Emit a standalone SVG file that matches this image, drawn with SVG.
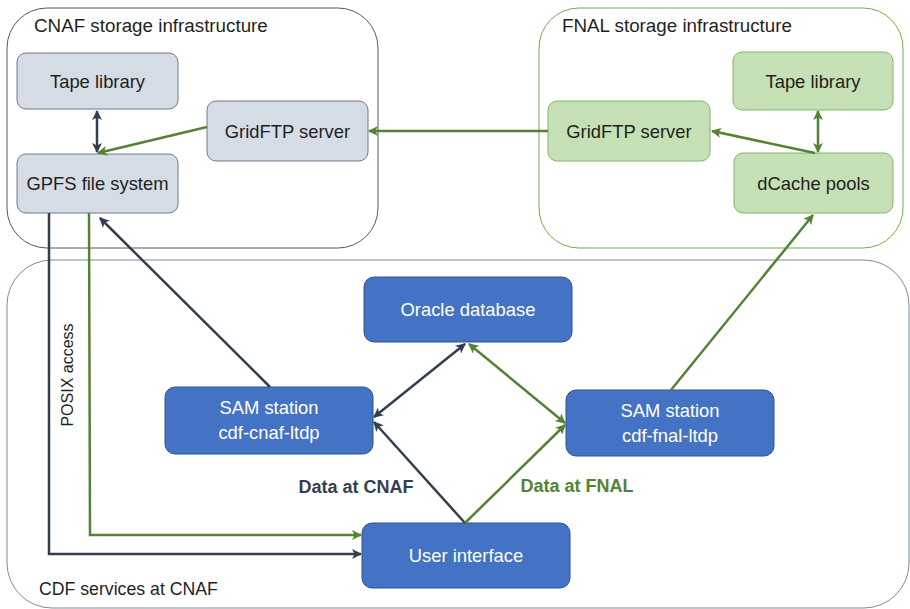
<svg xmlns="http://www.w3.org/2000/svg" width="910" height="609" viewBox="0 0 910 609">
<defs>
<style>
text{font-family:"Liberation Sans",Arial,sans-serif;font-size:18.4px;}
.t{font-size:18.8px;}
.c{text-anchor:middle;}
.grey{fill:#D6DCE5;stroke:#6E7B8B;stroke-width:1;}
.green{fill:#C5E0B4;stroke:#83B466;stroke-width:1;}
.blue{fill:#4472C4;stroke:#2F528F;stroke-width:1;}
.wt{fill:#ffffff;}
.dk{fill:#1f1f1f;}
.lbl{font-size:18px;font-weight:bold;}
.ld{fill:none;stroke:#333F50;stroke-width:2.5;}
.lg{fill:none;stroke:#548235;stroke-width:2.5;}
</style>
<marker id="ad" viewBox="0 0 10 10" refX="9" refY="5" markerWidth="4" markerHeight="4" orient="auto-start-reverse" markerUnits="strokeWidth">
<path d="M0,0 L10,5 L0,10 L2.5,5 z" fill="#333F50"/>
</marker>
<marker id="ag" viewBox="0 0 10 10" refX="9" refY="5" markerWidth="4" markerHeight="4" orient="auto-start-reverse" markerUnits="strokeWidth">
<path d="M0,0 L10,5 L0,10 L2.5,5 z" fill="#548235"/>
</marker>
</defs>
<rect x="0" y="0" width="910" height="609" fill="#ffffff"/>

<g id="cnaf-storage">
<rect x="7" y="8" width="371" height="240" rx="40" fill="none" stroke="#595959" stroke-width="1"/>
<text x="34" y="32" class="dk t">CNAF storage infrastructure</text>
</g>
<g id="fnal-storage">
<rect x="539" y="8" width="364" height="240" rx="40" fill="none" stroke="#70AD47" stroke-width="1"/>
<text x="562" y="32" class="dk t">FNAL storage infrastructure</text>
</g>
<g id="cdf-services">
<rect x="7" y="260" width="902" height="348" rx="45" fill="none" stroke="#7F8A99" stroke-width="1"/>
<text x="39" y="595" class="dk" style="font-size:17.7px">CDF services at CNAF</text>
</g>

<g id="cnaf-tape">
<rect class="grey" x="17" y="53" width="161" height="56" rx="9"/>
<text x="97.5" y="88" class="c dk">Tape library</text>
</g>
<g id="cnaf-gridftp">
<rect class="grey" x="207" y="101" width="161" height="60" rx="9"/>
<text x="287.5" y="138" class="c dk">GridFTP server</text>
</g>
<g id="gpfs">
<rect class="grey" x="17" y="154" width="161" height="59" rx="9"/>
<text x="97.5" y="190" class="c dk">GPFS file system</text>
</g>

<g id="fnal-tape">
<rect class="green" x="733" y="52" width="160" height="58" rx="9"/>
<text x="813" y="88" class="c dk">Tape library</text>
</g>
<g id="fnal-gridftp">
<rect class="green" x="548" y="101" width="162" height="60" rx="9"/>
<text x="629" y="138" class="c dk">GridFTP server</text>
</g>
<g id="dcache">
<rect class="green" x="734" y="153" width="159" height="60" rx="9"/>
<text x="813.5" y="190" class="c dk">dCache pools</text>
</g>

<g id="oracle">
<rect class="blue" x="364" y="277" width="208" height="65" rx="10"/>
<text x="468" y="316" class="c wt">Oracle database</text>
</g>
<g id="sam-cnaf">
<rect class="blue" x="165" y="387" width="208" height="67" rx="10"/>
<text x="269" y="414" class="c wt">SAM station</text>
<text x="269" y="439" class="c wt">cdf-cnaf-ltdp</text>
</g>
<g id="sam-fnal">
<rect class="blue" x="566" y="390" width="208" height="66" rx="10"/>
<text x="670" y="417" class="c wt">SAM station</text>
<text x="670" y="442" class="c wt">cdf-fnal-ltdp</text>
</g>
<g id="user-interface">
<rect class="blue" x="362" y="523" width="208" height="65" rx="10"/>
<text x="466" y="562" class="c wt">User interface</text>
</g>

<g id="connectors">
<line class="ld" x1="97" y1="111" x2="97" y2="152" marker-start="url(#ad)" marker-end="url(#ad)"/>
<line class="lg" x1="207" y1="127" x2="98" y2="153" marker-end="url(#ag)"/>
<line class="lg" x1="548" y1="131" x2="369" y2="131" marker-end="url(#ag)"/>
<line class="lg" x1="815" y1="153" x2="712" y2="131" marker-end="url(#ag)"/>
<line class="lg" x1="818" y1="111" x2="818" y2="152" marker-start="url(#ag)" marker-end="url(#ag)"/>
<line class="lg" x1="671" y1="390" x2="813" y2="215" marker-end="url(#ag)"/>
<line class="ld" x1="270" y1="387" x2="100" y2="218" marker-end="url(#ad)"/>
<polyline class="ld" points="49,213 49,554 361,554" marker-end="url(#ad)"/>
<polyline class="lg" points="89,213 90,535 361,535" marker-end="url(#ag)"/>
<line class="ld" x1="465" y1="344" x2="374" y2="417" marker-start="url(#ad)" marker-end="url(#ad)"/>
<line class="lg" x1="469" y1="344" x2="565" y2="423" marker-start="url(#ag)" marker-end="url(#ag)"/>
<line class="ld" x1="465" y1="523" x2="374" y2="422" marker-end="url(#ad)"/>
<line class="lg" x1="465" y1="523" x2="565" y2="425" marker-end="url(#ag)"/>
</g>

<g id="labels">
<text x="0" y="0" class="c dk" style="font-size:16px" transform="translate(73,375) rotate(-90)">POSIX access</text>
<text x="356" y="493" class="c lbl" fill="#333F50">Data at CNAF</text>
<text x="577" y="492" class="c lbl" fill="#548235">Data at FNAL</text>
</g>
</svg>
